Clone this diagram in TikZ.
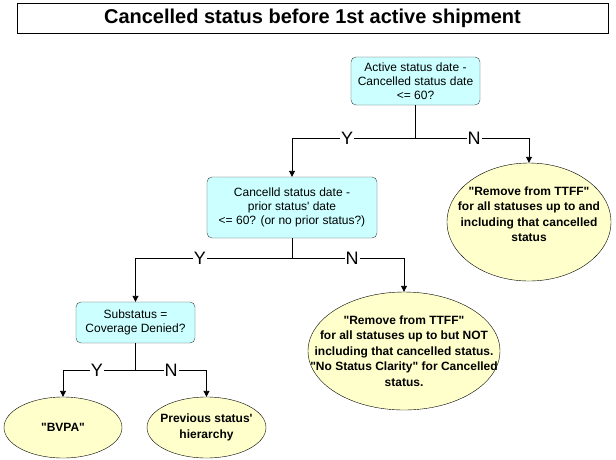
\documentclass[tikz,border=0pt]{standalone}
\usepackage{fontspec}
\setmainfont{Liberation Sans}[Ligatures=TeXOff]
\usetikzlibrary{shapes.geometric,arrows.meta}
\definecolor{boxfill}{HTML}{CCFFFF}
\definecolor{ellfill}{HTML}{FFFFCC}
\tikzset{
  qbox/.style={draw=black!75, fill=boxfill, rounded corners=5pt, align=center, font=\fontsize{12}{14}\selectfont, inner sep=0pt},
  leaf/.style={draw=black, fill=ellfill, ellipse, inner sep=0pt},
  leaftext/.style={align=center, font=\bfseries\fontsize{12}{15.5}\selectfont, inner sep=0pt},
  conn/.style={line width=0.9pt, black},
  arr/.style={conn, -{Triangle[width=6pt,length=6pt]}},
  yn/.style={fill=white, inner sep=1pt, font=\fontsize{18}{18}\selectfont}
}
\begin{document}
\begin{tikzpicture}[x=1pt,y=-1pt]
\useasboundingbox (0,0) rectangle (616,459);
\node[draw, line width=0.9pt, minimum width=591pt, minimum height=30pt, inner sep=0pt, font=\bfseries\fontsize{20}{20}\selectfont] (title) at (312.5,18) {Cancelled status before 1st active shipment};

\node[qbox, minimum width=129pt, minimum height=48pt] (q1) at (415.5,81) {Active status date -\\Cancelled status date\\<= 60?};
\node[qbox, minimum width=170pt, minimum height=61pt] (q2) at (292,207.5) {Cancelld status date -\\prior status' date\\<= 60? (or no prior status?)};
\node[qbox, minimum width=119pt, minimum height=41pt] (q3) at (135.5,322.5) {Substatus =\\Coverage Denied?};

\node[leaf, minimum width=164pt, minimum height=118pt] (e1) at (529,222) {};
\node[leaftext] (e1t) at (529,214) {"Remove from TTFF"\\for all statuses up to and\\including that cancelled\\status};
\node[leaf, minimum width=192pt, minimum height=118pt] (e2) at (404,351) {};
\node[leaftext] (e2t) at (e2) {"Remove from TTFF"\\for all statuses up to but NOT\\including that cancelled status.\\"No Status Clarity" for Cancelled\\status.};
\node[leaf, minimum width=118pt, minimum height=61pt] (e3) at (63,427.5) {};
\node[leaftext] (e3t) at (e3) {"BVPA"};
\node[leaf, minimum width=119pt, minimum height=61pt] (e4) at (206.5,427.5) {};
\node[leaftext] (e4t) at (e4) {Previous status'\\hierarchy};

% q1 branches
\coordinate (j1) at (q1.south |- 0,138);
\draw[conn] (q1.south) -- (j1);
\draw[arr] (j1) -| (q2.north);
\draw[arr] (j1) -| (e1.north);
\node[yn] (y1) at (347,138) {Y};
\node[yn] (n1) at (474,138) {N};

% q2 branches
\coordinate (j2) at (q2.south |- 0,258);
\draw[conn] (q2.south) -- (j2);
\draw[arr] (j2) -| (q3.north);
\draw[arr] (j2) -| (e2.north);
\node[yn] (y2) at (200,258) {Y};
\node[yn] (n2) at (352,258) {N};

% q3 branches
\coordinate (j3) at (q3.south |- 0,370);
\draw[conn] (q3.south) -- (j3);
\draw[arr] (j3) -| (e3.north);
\draw[arr] (j3) -| (e4.north);
\node[yn] (y3) at (97,370) {Y};
\node[yn] (n3) at (171,370) {N};
\end{tikzpicture}
\end{document}
